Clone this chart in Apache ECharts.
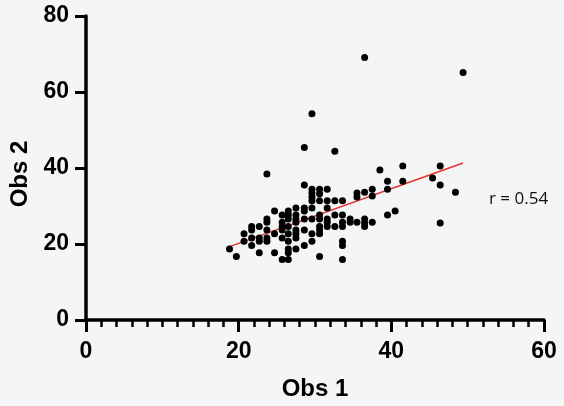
<!DOCTYPE html>
<html>
<head>
<meta charset="utf-8">
<script src="https://cdn.jsdelivr.net/npm/echarts@6/dist/echarts.min.js"></script>
<style>
  html, body { margin: 0; padding: 0; background: #f4f5f5; }
  #chart { width: 564px; height: 406px; }
</style>
</head>
<body>
<div id="chart"></div>
<script>
// ── data ────────────────────────────────────────────────
const obs1 = [
  18.8,
  19.7,
  20.7, 20.7,
  21.7, 21.7, 21.7, 21.7,
  22.7, 22.7, 22.7, 22.7,
  23.7, 23.7, 23.7, 23.7, 23.7, 23.7,
  24.7, 24.7, 24.7,
  25.7, 25.7, 25.7, 25.7, 25.7, 25.7,
  26.5, 26.5, 26.5, 26.5, 26.5, 26.5, 26.5, 26.5, 26.5,
  27.5, 27.5, 27.5, 27.5, 27.5, 27.5, 27.5, 27.5,
  28.6, 28.6, 28.6, 28.6, 28.6, 28.6, 28.6,
  29.6, 29.6, 29.6, 29.6, 29.6, 29.6, 29.6, 29.6, 29.6,
  30.6, 30.6, 30.6, 30.6, 30.6, 30.6, 30.6, 30.6, 30.6,
  31.6, 31.6, 31.6, 31.6, 31.6, 31.6,
  32.6, 32.6, 32.6, 32.6,
  33.6, 33.6, 33.6, 33.6, 33.6, 33.6, 33.6,
  34.6, 34.6,
  35.5, 35.5, 35.5,
  36.5, 36.5, 36.5, 36.5, 36.5,
  37.5, 37.5, 37.5,
  38.5,
  39.5, 39.5, 39.5,
  40.5,
  41.5, 41.5,
  45.4,
  46.4, 46.4, 46.4,
  48.4,
  49.4
];
const obs2 = [
  18.7,
  16.7,
  22.7, 20.7,
  24.6, 23.7, 21.6, 19.6,
  24.6, 21.6, 20.7, 17.7,
  38.4, 26.6, 25.7, 23.7, 21.6, 20.7,
  28.7, 22.7, 17.7,
  27.6, 25.7, 24.6, 23.7, 21.6, 15.9,
  28.7, 27.6, 26.6, 24.6, 22.7, 20.7, 18.7, 17.7, 15.9,
  29.5, 27.6, 26.6, 25.7, 23.7, 22.7, 21.6, 18.7,
  45.4, 35.5, 29.5, 28.7, 26.6, 23.7, 19.6,
  54.3, 34.4, 33.4, 32.4, 31.4, 29.5, 26.6, 22.7, 20.7,
  34.4, 33.2, 31.4, 27.6, 26.6, 24.6, 23.7, 22.7, 16.7,
  34.4, 31.4, 29.5, 26.6, 25.7, 24.6,
  44.4, 31.4, 27.6, 24.6,
  31.4, 27.6, 25.7, 24.6, 20.7, 19.6, 15.9,
  26.6, 25.7,
  33.4, 32.4, 25.7,
  69.1, 33.6, 26.6, 25.5, 24.6,
  34.4, 32.6, 25.7,
  39.5,
  36.5, 34.4, 27.6,
  28.7,
  40.5, 36.5,
  37.4,
  40.5, 35.5, 25.5,
  33.6,
  65.1
];

// regression line end points
const fitX = [18.8, 49.4];
const fitY = [19.3, 41.3];

const rLabel = 'r = 0.54';

const xTicks = { min: 0, max: 60, step: 20 };
const yTicks = { min: 0, max: 80, step: 20 };

// ── chart ───────────────────────────────────────────────
const chart = echarts.init(document.getElementById('chart'), null, { renderer: 'canvas' });

const axisFont = 'Liberation Sans, Arial, sans-serif';

chart.setOption({
  backgroundColor: '#f4f5f5',
  animation: false,
  grid: { left: 85, right: 20, top: 16, bottom: 84 },
  xAxis: {
    type: 'value',
    min: xTicks.min, max: xTicks.max, interval: xTicks.step,
    name: 'Obs 1',
    nameLocation: 'middle',
    nameGap: 57,
    nameTextStyle: { color: '#000', fontFamily: axisFont, fontWeight: 'bold', fontSize: 24 },
    axisLine: { lineStyle: { color: '#000', width: 3.5 } },
    axisTick: { length: 12, lineStyle: { color: '#000', width: 3 } },
    minorTick: { show: true, splitNumber: 10, length: 7, lineStyle: { color: '#000', width: 2.5 } },
    axisLabel: { color: '#000', fontFamily: axisFont, fontWeight: 'bold', fontSize: 23, margin: 20 },
    splitLine: { show: false },
  },
  yAxis: {
    type: 'value',
    min: yTicks.min, max: yTicks.max, interval: yTicks.step,
    name: 'Obs 2',
    nameLocation: 'middle',
    nameGap: 54,
    nameTextStyle: { color: '#000', fontFamily: axisFont, fontWeight: 'bold', fontSize: 24,
                     padding: [0, 12, 0, 0] },
    axisLine: { show: true, lineStyle: { color: '#000', width: 3.5 } },
    axisTick: { show: true, length: 11, lineStyle: { color: '#000', width: 3 } },
    axisLabel: { color: '#000', fontFamily: axisFont, fontWeight: 'bold', fontSize: 23, margin: 17 },
    splitLine: { show: false },
  },
  series: [
    {
      type: 'line',
      data: fitX.map((x, i) => [x, fitY[i]]),
      symbol: 'none',
      lineStyle: { color: '#e8302c', width: 1.5 },
      z: 1,
    },
    {
      type: 'scatter',
      data: obs1.map((x, i) => [x, obs2[i]]),
      symbol: 'circle',
      symbolSize: 7,
      itemStyle: { color: '#000', opacity: 1 },
      z: 2,
    },
  ],
  graphic: [{
    type: 'text',
    left: 489,
    top: 191,
    style: { text: rLabel, fill: '#111', font: '17px "Open Sans", sans-serif' },
  }],
});
</script>
</body>
</html>
